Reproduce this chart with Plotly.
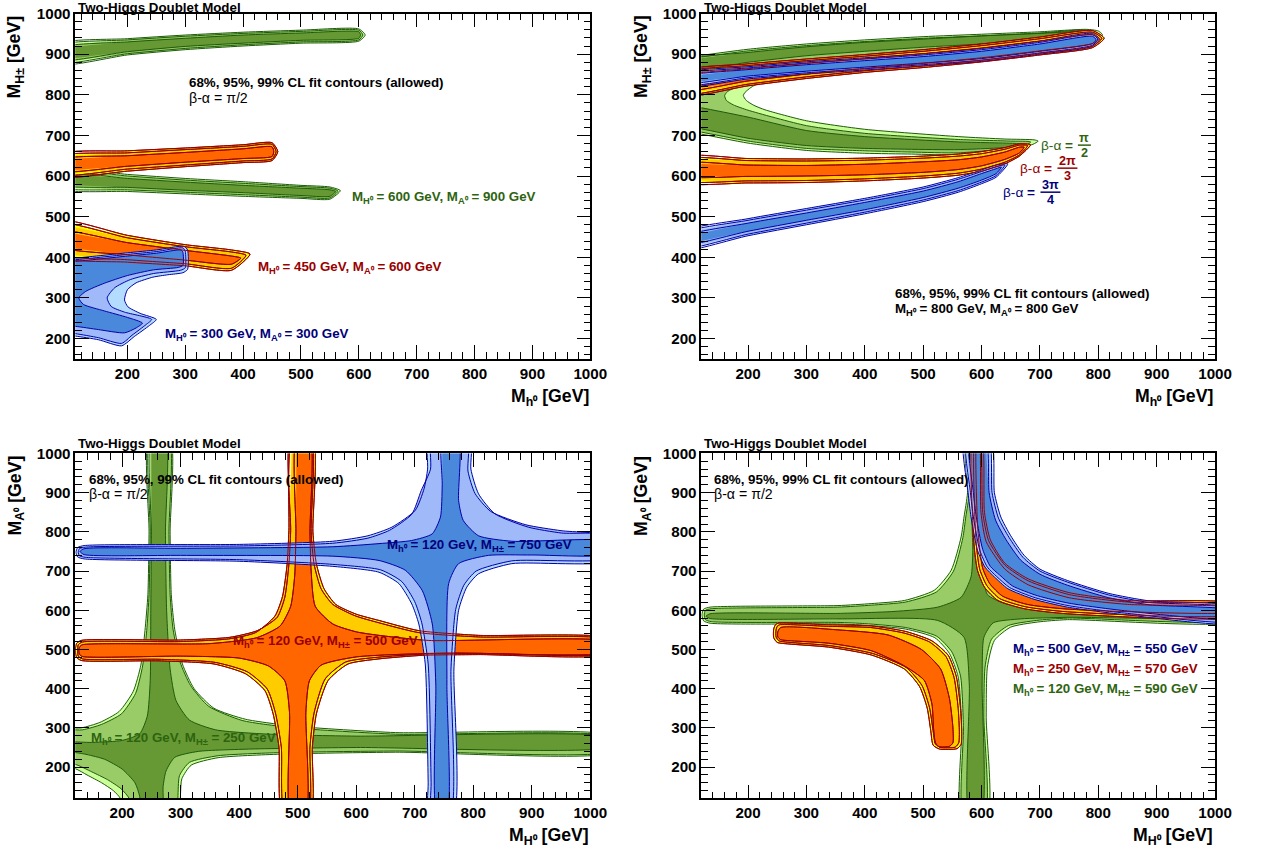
import plotly.graph_objects as go

W, H = 1261, 854
# the photographed page shows the figure scaled by ~0.989 and moved down by 9 px,
# so every position below is given in picture pixels and mapped back through this
SX, SY, TOP = 0.9889, 0.9885, 9.0
FONT = "Liberation Sans, Arial, Helvetica, sans-serif"

# fill colours for the 99%, 95% and 68% CL regions
GREEN = ["#ccff99", "#99cc66", "#669933"]
ORANGE = ["#ffff00", "#ffcc00", "#ff6600"]
BLUE = ["#b3dcff", "#9fb9f9", "#4a88dc"]
FILLS = {"g": GREEN, "o": ORANGE, "b": BLUE}
EDGE = {"g": "#1f5a0c", "o": "#990000", "b": "#0000a8"}
TEXT_COL = {"g": "#2e6410", "o": "#990000", "b": "#00007a", "k": "black"}

# ---------------- top left : M_H+- vs M_h0, beta-alpha = pi/2 ----------------
# thin bands: x, centre line and half widths (99, 95, 68 %)
TL_GH_X = [80, 200, 300, 400, 500, 600]
TL_GH_C = [900, 918, 929, 937, 943, 947]
TL_GH_W99 = [25, 20, 18, 17, 16, 15]
TL_GH_W95 = [21, 17, 15, 14, 13, 12]
TL_GH_W68 = [15, 12, 10, 10, 9, 8]
TL_GH_TIP = [(611, 947), (607, 947), (603, 947)]

TL_GL_X = [80, 200, 300, 400, 500, 550]
TL_GL_C = [593, 583, 575, 568, 561, 558]
TL_GL_W99 = [24, 21, 19, 18, 16, 15]
TL_GL_W95 = [20, 17, 15, 14, 13, 12]
TL_GL_W68 = [14, 11, 10, 9, 9, 8]
TL_GL_TIP = [(568, 564), (564, 563), (560, 562)]

TL_OH_X = [80, 200, 300, 400, 450]
TL_OH_C = [626, 637, 646, 655, 660]
TL_OH_W99 = [27, 25, 23, 22, 22]
TL_OH_W95 = [22, 20, 19, 18, 18]
TL_OH_W68 = [14, 13, 12, 12, 12]
TL_OH_TIP = [(460, 660), (457, 660), (453, 660)]

TL_OL_X = [80, 200, 300, 380]
TL_OL_C = [446, 421, 405, 393]
TL_OL_W99 = [44, 33, 26, 25]
TL_OL_W95 = [37, 27, 21, 20]
TL_OL_W68 = [19, 15, 12, 10]
TL_OL_TIP = [(412, 408), (405, 405), (396, 398)]

TL_B99 = [(80, 396), (110, 398), (200, 411), (250, 418), (298, 427), (304, 418), (304, 370), (296, 362),
          (270, 357), (244, 351), (215, 337), (200, 320), (195, 295), (201, 278), (222, 262), (250, 247),
          (238, 232), (212, 205), (190, 182), (150, 197), (110, 206), (80, 210)]
TL_B95 = [(80, 392), (110, 394), (200, 407), (250, 414), (296, 423), (300, 415), (300, 374), (292, 368),
          (245, 360), (205, 345), (178, 325), (165, 300), (172, 279), (195, 265), (242, 247), (232, 234),
          (208, 208), (190, 188), (150, 202), (110, 212), (80, 216)]
TL_B68 = [(80, 388), (110, 390), (200, 403), (250, 410), (293, 418), (296, 412), (296, 380), (288, 375),
          (245, 369), (200, 355), (160, 336), (128, 316), (116, 300), (124, 284), (160, 268), (200, 252),
          (226, 238), (215, 226), (195, 214), (150, 222), (110, 230), (80, 232)]

# ---------------- top right : M_H+- vs M_h0, three values of beta-alpha ----------------
TR_G99 = [(80, 890), (120, 897), (200, 912), (300, 925), (400, 935), (500, 943), (600, 949), (700, 955),
          (780, 961), (800, 957), (807, 948), (795, 925), (700, 905), (600, 890), (500, 878), (400, 866),
          (300, 852), (250, 842), (220, 830), (205, 818), (195, 806), (192, 798), (197, 786), (210, 774),
          (229, 763), (300, 736), (400, 715), (560, 697), (640, 691), (690, 689), (697, 686), (688, 678),
          (660, 668), (620, 658), (560, 652), (480, 654), (400, 656), (300, 663), (200, 681), (120, 703),
          (80, 712)]
TR_G95 = [(80, 886), (120, 893), (200, 908), (300, 921), (400, 931), (500, 939), (600, 945), (700, 951),
          (780, 956), (797, 952), (800, 945), (790, 930), (700, 910), (600, 895), (500, 882), (400, 870),
          (300, 857), (240, 845), (205, 832), (180, 819), (165, 808), (160, 798), (163, 786), (175, 775),
          (200, 762), (300, 724), (400, 705), (560, 690), (650, 686), (684, 684), (678, 676), (650, 668),
          (560, 657), (480, 659), (400, 662), (300, 668), (200, 686), (120, 708), (80, 717)]
TR_G68U_X = [80, 200, 300, 400, 500, 600, 700, 780]
TR_G68U_C = [870, 892, 907, 918, 927, 935, 943, 950]
TR_G68U_W = [13, 12, 11, 11, 10, 10, 9, 9]
TR_G68U_TIP = (795, 950)
TR_G68L = [(80, 778), (120, 768), (200, 745), (300, 712), (400, 697), (560, 684), (660, 680), (678, 677),
           (660, 672), (560, 665), (400, 668), (300, 675), (200, 693), (120, 716), (80, 724)]

TR_RU_X = [80, 200, 300, 400, 500, 600, 700, 790]
TR_RU_C = [826, 849, 864, 877, 889, 903, 920, 937]
TR_RU_W99 = [30, 27, 24, 22, 22, 22, 22, 21]
TR_RU_W95 = [26, 23, 20, 18, 18, 18, 18, 17]
TR_RU_W68 = [17, 15, 13, 12, 12, 12, 12, 11]
TR_RU_TIP = [(810, 939), (806, 939), (801, 938)]

TR_BU_X = [80, 200, 300, 400, 500, 600, 700, 790]
TR_BU_C = [835, 854, 866, 876, 886, 898, 916, 935]
TR_BU_W99 = [16, 15, 15, 15, 15, 16, 16, 16]
TR_BU_W95 = [13, 12, 12, 12, 12, 13, 13, 13]
TR_BU_W68 = [8, 8, 8, 8, 8, 9, 9, 9]
TR_BU_TIP = [(802, 937), (799, 937), (796, 936)]

TR_RL_X = [80, 200, 300, 400, 500, 560, 600, 640, 665]
TR_RL_C = [616, 613, 613, 616, 622, 628, 636, 650, 664]
TR_RL_W99 = [31, 30, 29, 28, 27, 26, 24, 20, 15]
TR_RL_W95 = [26, 25, 24, 23, 22, 21, 19, 16, 12]
TR_RL_W68 = [15, 14, 13, 13, 13, 12, 11, 9, 7]
TR_RL_TIP = [(684, 677), (679, 675), (673, 671)]

TR_BL_X = [80, 200, 300, 400, 500, 560, 600, 625]
TR_BL_C = [438, 474, 500, 526, 555, 578, 598, 612]
TR_BL_W99 = [22, 21, 20, 19, 18, 18, 17, 15]
TR_BL_W95 = [18, 17, 16, 15, 14, 14, 13, 11]
TR_BL_W68 = [10, 10, 9, 9, 8, 8, 8, 6]
TR_BL_TIP = [(645, 630), (640, 627), (634, 622)]

# ---------------- bottom left : M_A0 vs M_H0 ----------------
BL_G99 = [(246, 1040), (282, 1040), (282, 800), (284, 640), (290, 550), (303, 463), (323, 400), (357, 350),
          (411, 322), (498, 304), (667, 288), (1040, 279), (1040, 238), (667, 238), (470, 233), (364, 224),
          (318, 205), (302, 170), (294, 80), (200, 80), (197, 120), (185, 140), (165, 160), (140, 180),
          (120, 196), (80, 205), (80, 298), (130, 300), (162, 314), (195, 342), (219, 393), (232, 460),
          (239, 548), (244, 640), (246, 800)]
BL_G95 = [(248, 1040), (280, 1040), (280, 800), (282, 640), (287, 552), (299, 468), (317, 408), (348, 355),
          (405, 319), (495, 300), (667, 284), (1040, 276), (1040, 241), (667, 241), (470, 237), (364, 229),
          (315, 212), (298, 178), (290, 80), (215, 80), (212, 120), (198, 145), (175, 168), (148, 188),
          (120, 207), (80, 214), (80, 293), (132, 295), (165, 309), (199, 336), (223, 388), (235, 458),
          (242, 548), (246, 640), (248, 800)]
BL_G68 = [(250, 1040), (274, 1040), (274, 800), (276, 600), (282, 450), (292, 370), (315, 320), (360, 295),
          (450, 284), (600, 279), (1040, 275), (1040, 252), (600, 250), (420, 246), (330, 240), (290, 225),
          (275, 190), (270, 150), (268, 80), (232, 80), (230, 125), (222, 160), (200, 195), (170, 220),
          (140, 232), (120, 237), (80, 238), (80, 262), (150, 263), (200, 268), (230, 285), (243, 330),
          (248, 420), (249, 600), (250, 800)]

BL_O99 = [(488, 1040), (526, 1040), (526, 800), (532, 718), (545, 655), (565, 615), (600, 590), (639, 574),
          (707, 548), (809, 536), (1040, 527), (1040, 489), (809, 487), (713, 485), (639, 476), (586, 463),
          (552, 421), (532, 336), (525, 251), (522, 80), (474, 80), (468, 251), (458, 336), (444, 395),
          (411, 438), (357, 463), (263, 471), (130, 472), (122, 480), (120, 497), (122, 515), (130, 523),
          (296, 524), (384, 531), (431, 548), (465, 582), (478, 633), (485, 718), (488, 803)]
BL_O95 = [(491, 1040), (523, 1040), (523, 800), (528, 718), (540, 655), (560, 615), (598, 586), (639, 568),
          (707, 543), (809, 532), (1040, 524), (1040, 492), (809, 490), (713, 488), (636, 480), (582, 468),
          (547, 425), (528, 338), (521, 251), (518, 80), (478, 80), (472, 251), (462, 338), (448, 399),
          (414, 443), (359, 467), (263, 475), (132, 476), (125, 483), (124, 497), (125, 512), (132, 519),
          (296, 520), (382, 527), (428, 543), (461, 585), (474, 635), (482, 718), (485, 803)]
BL_O68 = [(498, 1040), (521, 1040), (521, 800), (523, 700), (530, 610), (560, 565), (600, 545), (639, 536),
          (724, 523), (1040, 519), (1040, 494), (750, 491), (600, 481), (540, 460), (520, 420), (514, 340),
          (514, 80), (488, 80), (486, 340), (478, 420), (450, 458), (400, 478), (300, 483), (132, 482),
          (127, 488), (126, 497), (127, 506), (132, 512), (350, 515), (430, 530), (470, 560), (488, 610),
          (495, 690), (497, 800)]

BL_B99 = [(724, 1040), (795, 1040), (796, 960), (809, 897), (837, 846), (894, 812), (951, 797), (1040, 790),
          (1040, 727), (866, 719), (809, 693), (789, 659), (775, 600), (767, 450), (766, 80), (724, 80),
          (723, 160), (718, 463), (707, 565), (695, 616), (673, 668), (639, 697), (560, 712), (400, 725),
          (135, 731), (124, 736), (121, 748), (124, 760), (135, 765), (400, 768), (560, 776), (620, 790),
          (661, 812), (701, 855), (716, 910), (722, 960)]
BL_B95 = [(729, 1040), (790, 1040), (791, 955), (803, 898), (830, 852), (890, 818), (950, 803), (1040, 787),
          (1040, 734), (866, 726), (805, 700), (784, 664), (770, 602), (762, 450), (761, 80), (729, 80),
          (728, 160), (723, 463), (712, 568), (700, 622), (678, 673), (642, 703), (560, 717), (400, 729),
          (137, 735), (127, 739), (125, 748), (127, 757), (137, 761), (400, 764), (560, 771), (620, 784),
          (657, 804), (695, 845), (711, 905), (727, 960)]
BL_B68 = [(747, 1040), (775, 1040), (775, 880), (783, 829), (809, 790), (866, 776), (1040, 775), (1040, 744),
          (900, 741), (826, 740), (775, 719), (758, 668), (755, 412), (755, 80), (738, 80), (736, 412),
          (730, 565), (713, 650), (684, 702), (639, 727), (560, 738), (300, 740), (135, 742), (128, 750),
          (135, 757), (300, 758), (560, 762), (639, 770), (695, 778), (730, 795), (744, 838), (747, 920)]

# ---------------- bottom right : M_A0 vs M_H0 ----------------
BR_G99 = [(574, 1040), (576, 900), (570, 838), (565, 787), (548, 702), (519, 651), (468, 625), (411, 617),
          (354, 612), (135, 608), (124, 603), (121, 588), (124, 573), (135, 567), (354, 565), (400, 562),
          (470, 552), (520, 530), (545, 490), (560, 430), (566, 300), (566, 80), (610, 80), (608, 327),
          (610, 455), (622, 523), (650, 557), (696, 570), (747, 576), (1040, 572), (1040, 614), (800, 615),
          (700, 622), (650, 640), (625, 680), (615, 760), (614, 900), (614, 1040)]
BR_G95 = [(577, 1040), (579, 900), (573, 838), (568, 785), (552, 700), (523, 647), (470, 621), (411, 613),
          (354, 608), (137, 604), (127, 600), (125, 588), (127, 576), (137, 571), (354, 569), (400, 566),
          (470, 556), (523, 534), (549, 494), (564, 432), (569, 300), (569, 80), (606, 80), (604, 327),
          (606, 455), (617, 526), (646, 561), (694, 574), (747, 580), (1040, 576), (1040, 610), (800, 611),
          (700, 618), (647, 636), (621, 678), (611, 760), (610, 900), (610, 1040)]
BR_G68 = [(582, 1040), (583, 850), (585, 753), (582, 685), (565, 633), (525, 608), (450, 597), (354, 592),
          (135, 591), (128, 585), (135, 579), (354, 578), (525, 574), (570, 531), (579, 412), (579, 80),
          (600, 80), (601, 412), (604, 531), (620, 568), (667, 578), (747, 582), (1040, 585), (1040, 600),
          (800, 603), (700, 607), (640, 617), (610, 640), (602, 700), (600, 850), (600, 1040)]

BR_O99 = [(252, 567), (338, 563), (411, 560), (470, 546), (515, 522), (543, 485), (557, 430), (564, 350),
          (566, 290), (565, 258), (558, 247), (528, 246), (517, 256), (513, 293), (507, 350), (494, 405),
          (468, 450), (411, 486), (338, 506), (270, 514), (250, 518), (244, 530), (244, 552), (247, 563)]
BR_O95 = [(254, 563), (338, 559), (410, 556), (467, 542), (511, 519), (539, 482), (553, 428), (560, 350),
          (562, 290), (561, 262), (555, 251), (530, 250), (521, 259), (517, 293), (511, 351), (498, 408),
          (471, 454), (413, 490), (339, 510), (272, 518), (253, 522), (248, 532), (248, 550), (250, 559)]
BR_O68 = [(256, 556), (354, 550), (440, 537), (497, 500), (530, 450), (545, 375), (551, 300), (551, 262),
          (545, 253), (527, 252), (521, 262), (518, 295), (515, 361), (502, 421), (468, 458), (411, 497),
          (338, 516), (275, 522), (256, 525), (251, 532), (251, 545)]
BR_OU99 = [(585, 1040), (585, 821), (588, 753), (593, 702), (605, 659), (628, 625), (673, 604), (747, 591),
           (1040, 585), (1040, 616), (850, 625), (750, 645), (680, 680), (640, 720), (615, 780), (605, 850),
           (600, 1040)]
BR_OU95 = [(589, 1040), (589, 821), (592, 753), (597, 704), (609, 663), (631, 630), (675, 609), (747, 596),
           (1040, 590), (1040, 612), (850, 621), (750, 640), (680, 675), (640, 715), (612, 778), (602, 850),
           (597, 1040)]
BR_OU68 = [(592, 1040), (593, 821), (597, 755), (602, 707), (614, 668), (636, 636), (678, 615), (747, 603),
           (1040, 596), (1040, 606), (850, 615), (750, 632), (680, 665), (640, 705), (608, 775), (599, 850),
           (596, 1040)]

BR_B99 = [(570, 1040), (577, 900), (582, 838), (593, 753), (606, 710), (622, 685), (645, 655), (690, 628),
          (747, 608), (850, 588), (1040, 568), (1040, 608), (887, 624), (818, 643), (747, 676), (700, 705),
          (673, 740), (650, 790), (633, 838), (622, 900), (616, 1040)]
BR_B95 = [(574, 1040), (581, 900), (586, 838), (597, 753), (610, 710), (626, 686), (648, 658), (692, 632),
          (748, 612), (850, 592), (1040, 572), (1040, 604), (887, 620), (818, 639), (747, 672), (700, 700),
          (671, 735), (647, 786), (629, 835), (618, 900), (612, 1040)]
BR_B68 = [(579, 1040), (586, 900), (591, 838), (602, 755), (615, 712), (631, 690), (653, 662), (696, 637),
          (750, 618), (850, 598), (1040, 578), (1040, 598), (887, 614), (818, 632), (747, 664), (700, 692),
          (667, 728), (642, 780), (624, 830), (613, 900), (607, 1040)]

# axis ranges and tick values
TL_XRANGE = [110, 1000]
X_RANGE = [120, 1000]
TOP_YRANGE = [150, 1000]
BOT_YRANGE = [120, 1000]
TICKS = [200, 300, 400, 500, 600, 700, 800, 900, 1000]


def px(x):
    return x / SX / W


def py(y):
    return 1 - (y - TOP) / SY / H


def fs(size):
    return size / SX


def band(xs, cs, ws, tip):
    top = [(x, c + w) for x, c, w in zip(xs, cs, ws)]
    bot = [(x, c - w) for x, c, w in zip(xs, cs, ws)]
    return top + [tip] + bot[::-1]


def three(fam, xs, cs, ws3, tips):
    return [(fam, i, band(xs, cs, w, t)) for i, (w, t) in enumerate(zip(ws3, tips))]


TL = (three("g", TL_GH_X, TL_GH_C, [TL_GH_W99, TL_GH_W95, TL_GH_W68], TL_GH_TIP)
      + three("g", TL_GL_X, TL_GL_C, [TL_GL_W99, TL_GL_W95, TL_GL_W68], TL_GL_TIP)
      + three("o", TL_OH_X, TL_OH_C, [TL_OH_W99, TL_OH_W95, TL_OH_W68], TL_OH_TIP)
      + three("o", TL_OL_X, TL_OL_C, [TL_OL_W99, TL_OL_W95, TL_OL_W68], TL_OL_TIP)
      + [("b", 0, TL_B99), ("b", 1, TL_B95), ("b", 2, TL_B68)])

TR = ([("g", 0, TR_G99), ("g", 1, TR_G95),
       ("g", 2, band(TR_G68U_X, TR_G68U_C, TR_G68U_W, TR_G68U_TIP)), ("g", 2, TR_G68L)]
      + three("o", TR_RU_X, TR_RU_C, [TR_RU_W99, TR_RU_W95, TR_RU_W68], TR_RU_TIP)
      + three("o", TR_RL_X, TR_RL_C, [TR_RL_W99, TR_RL_W95, TR_RL_W68], TR_RL_TIP)
      + three("b", TR_BU_X, TR_BU_C, [TR_BU_W99, TR_BU_W95, TR_BU_W68], TR_BU_TIP)
      + three("b", TR_BL_X, TR_BL_C, [TR_BL_W99, TR_BL_W95, TR_BL_W68], TR_BL_TIP))

BL = [("g", 0, BL_G99), ("g", 1, BL_G95), ("g", 2, BL_G68),
      ("o", 0, BL_O99), ("o", 1, BL_O95), ("o", 2, BL_O68),
      ("b", 0, BL_B99), ("b", 1, BL_B95), ("b", 2, BL_B68)]

BR = [("g", 0, BR_G99), ("g", 1, BR_G95), ("g", 2, BR_G68),
      ("o", 0, BR_O99), ("o", 1, BR_O95), ("o", 2, BR_O68),
      ("o", 0, BR_OU99), ("o", 1, BR_OU95), ("o", 2, BR_OU68),
      ("b", 0, BR_B99), ("b", 1, BR_B95), ("b", 2, BR_B68)]

fig = go.Figure()
LINE = dict(shape="spline", smoothing=0.6)


def add_fill(poly, fam, lev, xa, ya):
    xs, ys = zip(*poly)
    fig.add_trace(go.Scatter(x=xs, y=ys, mode="lines", fill="toself", fillcolor=FILLS[fam][lev],
                             line=dict(width=0, **LINE), hoverinfo="skip", showlegend=False,
                             xaxis=xa, yaxis=ya))


def add_edge(poly, fam, xa, ya):
    xs, ys = zip(*(poly + [poly[0]]))
    fig.add_trace(go.Scatter(x=xs, y=ys, mode="lines", line=dict(width=1, color=EDGE[fam], **LINE),
                             hoverinfo="skip", showlegend=False, xaxis=xa, yaxis=ya))


def draw(shapes, xa, ya):
    for fam in ("g", "o", "b"):
        part = [s for s in shapes if s[0] == fam]
        for f, lev, poly in part:
            add_fill(poly, f, lev, xa, ya)
        for f, lev, poly in part:
            add_edge(poly, f, xa, ya)
    # the red contour lines stay visible on top of the other fills
    for f, lev, poly in shapes:
        if f == "o":
            add_edge(poly, f, xa, ya)


draw(TL, "x", "y")
draw(TR, "x2", "y2")
draw(BL, "x3", "y3")
draw(BR, "x4", "y4")

TICKFONT = dict(family=FONT, size=fs(15), color="black", weight="bold")


def axis(rng, dom, anchor):
    return dict(range=rng, domain=dom, anchor=anchor, showgrid=False, zeroline=False,
                showline=True, linecolor="black", linewidth=1.5, mirror="allticks",
                ticks="inside", ticklen=14, tickwidth=1.2, tickcolor="black",
                tickmode="array", tickvals=TICKS, tickfont=TICKFONT,
                minor=dict(ticks="inside", ticklen=7, tickwidth=1, tickcolor="black",
                           dtick=20, tick0=0, showgrid=False))


# frame edges in picture pixels
XL = [px(75.5), px(591.7)]
XR = [px(703), px(1218)]
YT = [py(358.5), py(13.5)]
YB = [py(797.7), py(453)]

fig.update_layout(
    width=W, height=H, autosize=False, margin=dict(l=0, r=0, t=0, b=0),
    paper_bgcolor="white", plot_bgcolor="white", showlegend=False,
    xaxis=axis(TL_XRANGE, XL, "y"), yaxis=axis(TOP_YRANGE, YT, "x"),
    xaxis2=axis(X_RANGE, XR, "y2"), yaxis2=axis(TOP_YRANGE, YT, "x2"),
    xaxis3=axis(X_RANGE, XL, "y3"), yaxis3=axis(BOT_YRANGE, YB, "x3"),
    xaxis4=axis(X_RANGE, XR, "y4"), yaxis4=axis(BOT_YRANGE, YB, "x4"),
)

# ---------------- texts (pixel positions in the 1261x854 picture) ----------------
MH0 = "M<sub>H⁰</sub>"
MA0 = "M<sub>A⁰</sub>"
Mh0 = "M<sub>h⁰</sub>"
MHC = "M<sub>H±</sub>"
CL = "68%, 95%, 99% CL fit contours (allowed)"

LABELS = [
    # text, x px, y px, colour key, size, bold
    ("Two-Higgs Doublet Model", 76, 8, "k", 13.2, True),
    ("Two-Higgs Doublet Model", 704, 8, "k", 13.2, True),
    ("Two-Higgs Doublet Model", 76, 443, "k", 13.2, True),
    ("Two-Higgs Doublet Model", 704, 443, "k", 13.2, True),
    (CL, 187, 82, "k", 13.2, True),
    ("β-α = π/2", 187, 98, "k", 14, False),
    (MH0 + " = 600 GeV, " + MA0 + " = 900 GeV", 351, 197, "g", 13.2, True),
    (MH0 + " = 450 GeV, " + MA0 + " = 600 GeV", 257, 267, "o", 13.2, True),
    (MH0 + " = 300 GeV, " + MA0 + " = 300 GeV", 163, 334, "b", 13.2, True),
    (CL, 895, 293, "k", 13.2, True),
    (MH0 + " = 800 GeV, " + MA0 + " = 800 GeV", 895, 309, "k", 13.2, True),
    ("β-α <b>=</b>", 1042, 145, "g", 13.5, False),
    ("β-α <b>=</b>", 1020, 168, "o", 13.5, False),
    ("β-α <b>=</b>", 1003, 192, "b", 13.5, False),
    (CL, 87, 479, "k", 13.2, True),
    ("β-α = π/2", 87, 494, "k", 14, False),
    (Mh0 + " = 120 GeV, " + MHC + " = 750 GeV", 386, 545, "b", 13.2, True),
    (Mh0 + " = 120 GeV, " + MHC + " = 500 GeV", 232, 641, "o", 13.2, True),
    (Mh0 + " = 120 GeV, " + MHC + " = 250 GeV", 89, 738, "g", 13.2, True),
    (CL, 714, 479, "k", 13.2, True),
    ("β-α = π/2", 714, 494, "k", 14, False),
    (Mh0 + " = 500 GeV, " + MHC + " = 550 GeV", 1013, 649, "b", 13.2, True),
    (Mh0 + " = 250 GeV, " + MHC + " = 570 GeV", 1013, 669, "o", 13.2, True),
    (Mh0 + " = 120 GeV, " + MHC + " = 590 GeV", 1013, 689, "g", 13.2, True),
]

# stacked fractions of the top-right legend: numerator, denominator, centre x, bar y, colour
FRACTIONS = [("π", "2", 1087, 145, "g"), ("2π", "3", 1070, 168, "o"), ("3π", "4", 1053, 192, "b")]

# axis titles: text, x px, y px, rotated
AXIS_TITLES = [
    (Mh0 + " [GeV]", 592, 397, False), (Mh0 + " [GeV]", 1218, 397, False),
    (MH0 + " [GeV]", 592, 836, False), (MH0 + " [GeV]", 1218, 836, False),
    (MHC + " [GeV]", 16, 13, True), (MHC + " [GeV]", 644, 13, True),
    (MA0 + " [GeV]", 16, 453, True), (MA0 + " [GeV]", 644, 453, True),
]

ann = []
for text, x, y, col, size, bold in LABELS:
    ann.append(dict(text=text, x=px(x), y=py(y), xref="paper", yref="paper", showarrow=False,
                    xanchor="left", yanchor="middle",
                    font=dict(family=FONT, size=fs(size), color=TEXT_COL[col],
                              weight="bold" if bold else "normal")))

shapes = []
for num, den, x, y, col in FRACTIONS:
    for t, dy in ((num, -7.5), (den, 7.5)):
        ann.append(dict(text=t, x=px(x), y=py(y + dy), xref="paper", yref="paper",
                        showarrow=False, xanchor="center", yanchor="middle",
                        font=dict(family=FONT, size=fs(12.5), color=TEXT_COL[col], weight="bold")))
    half = 3 + 3.5 * len(num)
    shapes.append(dict(type="line", xref="paper", yref="paper", x0=px(x - half), x1=px(x + half),
                       y0=py(y), y1=py(y), line=dict(color=TEXT_COL[col], width=1.5)))

for text, x, y, rot in AXIS_TITLES:
    if rot:
        ann.append(dict(text=text, x=px(x), y=py(y), xref="paper", yref="paper", showarrow=False,
                        textangle=-90, xanchor="center", yanchor="top",
                        font=dict(family=FONT, size=fs(17.5), color="black", weight="bold")))
    else:
        ann.append(dict(text=text, x=px(x), y=py(y), xref="paper", yref="paper", showarrow=False,
                        xanchor="right", yanchor="middle",
                        font=dict(family=FONT, size=fs(17.5), color="black", weight="bold")))

fig.update_layout(annotations=ann, shapes=shapes)

# pin the plot to the window corner
PIN = ("var gd=document.getElementById('{plot_id}');"
       "gd.style.position='fixed';gd.style.left='0px';gd.style.top='0px';"
       "document.body.style.margin='0px';document.body.style.overflow='hidden';")
fig.write_html("out.html", config={"displayModeBar": False}, post_script=PIN)
